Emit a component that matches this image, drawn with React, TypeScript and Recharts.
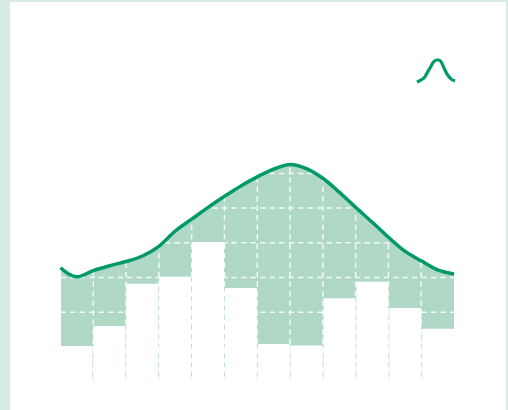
import React from 'react';
import { ComposedChart, BarChart, LineChart, AreaChart, Area, Bar, Line, XAxis, YAxis, CartesianGrid } from 'recharts';

// curve samples, half a category apart except for the dip near the start
const curveX = [0, 0.25, 0.5, 1, 1.5, 2, 2.5, 3, 3.5, 4, 4.5, 5, 5.5, 6, 6.5, 7, 7.5, 8, 8.5, 9, 9.5, 10, 10.5, 11, 11.5, 12];
const curveY = [164, 155, 151, 160, 167, 173, 181, 195, 217, 234, 251, 267, 282, 295, 306, 313, 307, 293, 273, 251, 230, 208, 188, 174, 161, 155];

// one white bar per category
const categories = ['1', '2', '3', '4', '5', '6', '7', '8', '9', '10', '11', '12'];
const barY = [51, 80, 141, 151, 201, 135, 54, 52, 120, 144, 106, 76];

const gridX = [1, 2, 3, 4, 5, 6, 7, 8, 9, 10, 11];
const gridY = [50, 100, 150, 200, 250, 300];

const legendX = [0, 4, 7, 10, 13, 16, 19, 21, 23, 26, 29, 33, 37];
const legendY = [0, 2, 4, 9, 14, 19, 21, 21, 20, 14, 8, 3, 1];

const curveRows = curveX.map((x, i) => ({ x, curve: curveY[i] }));
const barRows = categories.map((name, i) => ({ name, bar: barY[i] }));
const legendRows = legendX.map((x, i) => ({ x, y: legendY[i] }));

const GREEN = '#009a66';
const FILL = '#b0d8c6';
const W = 508;
const H = 410;
const MARGIN = { top: 34.6, right: 54, bottom: 28.4, left: 60.5 };
const layer: React.CSSProperties = { position: 'absolute', left: 0, top: 0 };

export default function App() {
  return (
    <div style={{ position: 'fixed', left: 0, top: 0, width: W, height: H, background: '#d6ebe2', overflow: 'hidden' }}>
      <div style={{ position: 'absolute', left: 10, top: 2, width: 496, height: 408, background: '#fff' }} />
      {/* the green band is the area showing between the bars and the curve */}
      <div style={layer}>
        <AreaChart width={W} height={H} data={curveRows} margin={{ ...MARGIN, left: 61 }}>
          <XAxis dataKey="x" type="number" domain={[0, 12]} hide />
          <YAxis type="number" domain={[0, 500]} hide />
          <Area dataKey="curve" type="monotone" baseValue={1} fill={FILL} fillOpacity={1} stroke="none" isAnimationActive={false} />
        </AreaChart>
      </div>
      <div style={layer}>
        <BarChart width={W} height={H} data={barRows} margin={{ ...MARGIN, left: 60, right: 53.5 }} barCategoryGap={0.5}>
          <XAxis dataKey="name" hide />
          <YAxis type="number" domain={[0, 500]} hide />
          <Bar dataKey="bar" fill="#fff" isAnimationActive={false} />
        </BarChart>
      </div>
      <div style={layer}>
        <ComposedChart width={W} height={H} data={curveRows} margin={MARGIN}>
          <CartesianGrid stroke="#fff" strokeOpacity={0.85} strokeWidth={1.5} strokeDasharray="5.5 4" horizontalValues={gridY} verticalValues={gridX} />
          <XAxis dataKey="x" type="number" domain={[0, 12]} hide />
          <YAxis type="number" domain={[0, 500]} hide />
          <Line dataKey="curve" type="monotone" stroke={GREEN} strokeWidth={3.5} dot={false} activeDot={false} isAnimationActive={false} />
        </ComposedChart>
      </div>
      <div style={{ position: 'absolute', left: 414, top: 56 }}>
        <LineChart width={44} height={30} data={legendRows} margin={{ top: 4, right: 3, bottom: 4, left: 3 }}>
          <XAxis dataKey="x" type="number" domain={[0, 37]} hide />
          <YAxis type="number" domain={[0, 21]} hide />
          <Line dataKey="y" type="monotone" stroke={GREEN} strokeWidth={3.2} dot={false} activeDot={false} isAnimationActive={false} />
        </LineChart>
      </div>
    </div>
  );
}
